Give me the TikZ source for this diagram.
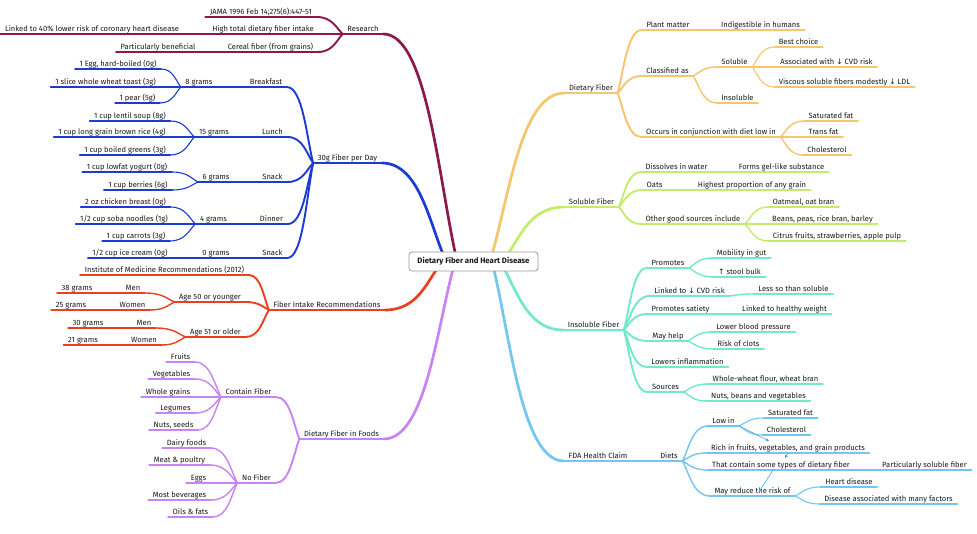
\documentclass[tikz,border=0pt]{standalone}
\usepackage{fontspec}
\setmainfont{Fira Sans}
\newfontfamily\symf{DejaVu Sans}
\usetikzlibrary{calc,arrows.meta}
\definecolor{cR}{HTML}{8B1A4B}
\definecolor{cB}{HTML}{1C3BD1}
\definecolor{cO}{HTML}{E8411E}
\definecolor{cP}{HTML}{C784F2}
\definecolor{cY}{HTML}{F6C66E}
\definecolor{cG}{HTML}{C4EC6C}
\definecolor{cC}{HTML}{72E8CC}
\definecolor{cL}{HTML}{72C6F0}
\definecolor{cLd}{HTML}{4AA6E6}
\definecolor{txt}{HTML}{1A1A1A}
\tikzset{
 mmtext/.style={inner xsep=4.5pt, inner ysep=0.5pt, text depth=1.7pt, text height=5.9pt,
   font=\fontsize{7.6}{8.5}\selectfont, text=txt},
 w1/.style={line width=2.7pt, line cap=round},
 w2/.style={line width=1.9pt, line cap=round},
 w3/.style={line width=1.4pt, line cap=round},
 w4/.style={line width=1.1pt, line cap=round},
 xlink/.style={cLd, line width=0.6pt, -{Triangle[length=3pt,width=3pt]}},
 rootbox/.style={draw=black!40, line width=0.8pt, rounded corners=3pt, fill=white,
   minimum width=129pt, minimum height=19pt, inner sep=2pt,
   font=\fontsize{7.8}{8.5}\selectfont\bfseries, text=txt}
}
\newcommand{\mmn}[5]{\node[mmtext,anchor=south] (#2) at (#3,#4) {#5};\draw[#1] (#2.south west) -- (#2.south east);}
\newcommand{\mmc}[3]{\draw[#1] let \p1=(#2), \p2=(#3) in (\p1) .. controls ({\x1+0.25*(\x2-\x1)},{\y1+0.35*(\y2-\y1)}) and ({\x2-0.6*(\x2-\x1)},\y2) .. (\p2);}
\begin{document}
\begin{tikzpicture}[x=1pt,y=-1pt]
\fill[white] (0,0) rectangle (977,534);
\useasboundingbox (0,0) rectangle (977,534);
% root anchor points
\coordinate (rR) at (457,261);
\coordinate (rB) at (446,261);
\coordinate (rO) at (442,262);
\coordinate (rP) at (455,262);
\coordinate (rY) at (490,261);
\coordinate (rG) at (503,261);
\coordinate (rC) at (500,262);
\coordinate (rL) at (492,262);
% ---------- Research
\mmn{cR,w1}{research}{363}{34}{Research}
\mmn{cR,w2}{jama}{261}{17}{JAMA 1996 Feb 14;275(6):447-51}
\mmn{cR,w2}{hightotal}{263}{34}{High total dietary fiber intake}
\mmn{cR,w3}{linked40}{92}{34}{Linked to 40\% lower risk of coronary heart disease}
\mmn{cR,w2}{cereal}{270.5}{52}{Cereal fiber (from grains)}
\mmn{cR,w3}{partic}{158}{52}{Particularly beneficial}
\mmc{cR,w1}{rR}{research.south east}
\mmc{cR,w2}{research.south west}{jama.south east}
\mmc{cR,w2}{research.south west}{hightotal.south east}
\mmc{cR,w2}{research.south west}{cereal.south east}
\mmc{cR,w3}{hightotal.south west}{linked40.south east}
\mmc{cR,w3}{cereal.south west}{partic.south east}
% ---------- 30g Fiber per Day
\mmn{cB,w1}{fiber30}{347.5}{163}{30g Fiber per Day}
\mmn{cB,w2}{breakfast}{266}{87}{Breakfast}
\mmn{cB,w3}{g8}{199}{87}{8 grams}
\mmn{cB,w4}{egg}{118}{69}{1 Egg, hard-boiled (0g)}
\mmn{cB,w4}{toast}{105.5}{87}{1 slice whole wheat toast (3g)}
\mmn{cB,w4}{pear}{137.5}{103}{1 pear (5g)}
\mmn{cB,w2}{lunch}{272.5}{137}{Lunch}
\mmn{cB,w3}{g15}{214}{137}{15 grams}
\mmn{cB,w4}{lentil}{130}{121}{1 cup lentil soup (8g)}
\mmn{cB,w4}{rice}{112}{137}{1 cup long grain brown rice (4g)}
\mmn{cB,w4}{greens}{125}{155}{1 cup boiled greens (3g)}
\mmn{cB,w2}{snack1}{272.5}{182}{Snack}
\mmn{cB,w3}{g6}{216}{182}{6 grams}
\mmn{cB,w4}{yogurt}{127}{172}{1 cup lowfat yogurt (0g)}
\mmn{cB,w4}{berries}{138}{190}{1 cup berries (6g)}
\mmn{cB,w2}{dinner}{271.5}{224}{Dinner}
\mmn{cB,w3}{g4}{213.5}{224}{4 grams}
\mmn{cB,w4}{chicken}{125.5}{207}{2 oz chicken breast (0g)}
\mmn{cB,w4}{soba}{124}{224}{1/2 cup soba noodles (1g)}
\mmn{cB,w4}{carrots}{136}{241}{1 cup carrots (3g)}
\mmn{cB,w2}{snack2}{272.5}{258}{Snack}
\mmn{cB,w3}{g0}{216}{258}{0 grams}
\mmn{cB,w4}{icecream}{130}{258}{1/2 cup ice cream (0g)}
\mmc{cB,w1}{rB}{fiber30.south east}
\mmc{cB,w2}{fiber30.south west}{breakfast.south east}
\mmc{cB,w2}{fiber30.south west}{lunch.south east}
\mmc{cB,w2}{fiber30.south west}{snack1.south east}
\mmc{cB,w2}{fiber30.south west}{dinner.south east}
\mmc{cB,w2}{fiber30.south west}{snack2.south east}
\mmc{cB,w3}{breakfast.south west}{g8.south east}
\mmc{cB,w4}{g8.south west}{egg.south east}
\mmc{cB,w4}{g8.south west}{toast.south east}
\mmc{cB,w4}{g8.south west}{pear.south east}
\mmc{cB,w3}{lunch.south west}{g15.south east}
\mmc{cB,w4}{g15.south west}{lentil.south east}
\mmc{cB,w4}{g15.south west}{rice.south east}
\mmc{cB,w4}{g15.south west}{greens.south east}
\mmc{cB,w3}{snack1.south west}{g6.south east}
\mmc{cB,w4}{g6.south west}{yogurt.south east}
\mmc{cB,w4}{g6.south west}{berries.south east}
\mmc{cB,w3}{dinner.south west}{g4.south east}
\mmc{cB,w4}{g4.south west}{chicken.south east}
\mmc{cB,w4}{g4.south west}{soba.south east}
\mmc{cB,w4}{g4.south west}{carrots.south east}
\mmc{cB,w3}{snack2.south west}{g0.south east}
\mmc{cB,w4}{g0.south west}{icecream.south east}
% ---------- Fiber Intake Recommendations
\mmn{cO,w1}{intake}{327}{310}{Fiber Intake Recommendations}
\mmn{cO,w2}{iom}{164.5}{275}{Institute of Medicine Recommendations (2012)}
\mmn{cO,w2}{age50}{210}{302}{Age 50 or younger}
\mmn{cO,w3}{men1}{133}{293}{Men}
\mmn{cO,w4}{g38}{77}{293}{38 grams}
\mmn{cO,w3}{women1}{132.5}{310}{Women}
\mmn{cO,w4}{g25}{71}{310}{25 grams}
\mmn{cO,w2}{age51}{215.5}{337}{Age 51 or older}
\mmn{cO,w3}{men2}{144}{328}{Men}
\mmn{cO,w4}{g30}{88}{328}{30 grams}
\mmn{cO,w3}{women2}{144}{345}{Women}
\mmn{cO,w4}{g21}{83}{345}{21 grams}
\mmc{cO,w1}{rO}{intake.south east}
\mmc{cO,w2}{intake.south west}{iom.south east}
\mmc{cO,w2}{intake.south west}{age50.south east}
\mmc{cO,w2}{intake.south west}{age51.south east}
\mmc{cO,w3}{age50.south west}{men1.south east}
\mmc{cO,w3}{age50.south west}{women1.south east}
\mmc{cO,w4}{men1.south west}{g38.south east}
\mmc{cO,w4}{women1.south west}{g25.south east}
\mmc{cO,w3}{age51.south west}{men2.south east}
\mmc{cO,w3}{age51.south west}{women2.south east}
\mmc{cO,w4}{men2.south west}{g30.south east}
\mmc{cO,w4}{women2.south west}{g21.south east}
% ---------- Dietary Fiber in Foods
\mmn{cP,w1}{foods}{341.5}{439}{Dietary Fiber in Foods}
\mmn{cP,w2}{contain}{248.5}{397}{Contain Fiber}
\mmn{cP,w3}{fruits}{180.5}{362}{Fruits}
\mmn{cP,w3}{veg}{171.5}{379}{Vegetables}
\mmn{cP,w3}{grains}{168}{397}{Whole grains}
\mmn{cP,w3}{legumes}{175.5}{413}{Legumes}
\mmn{cP,w3}{nuts}{173.5}{430}{Nuts, seeds}
\mmn{cP,w2}{nofiber}{256.5}{483}{No Fiber}
\mmn{cP,w3}{dairy}{186.5}{448}{Dairy foods}
\mmn{cP,w3}{meat}{179.5}{465}{Meat \& poultry}
\mmn{cP,w3}{eggs}{198.5}{483}{Eggs}
\mmn{cP,w3}{bev}{179.5}{500}{Most beverages}
\mmn{cP,w3}{oils}{190.5}{517}{Oils \& fats}
\mmc{cP,w1}{rP}{foods.south east}
\mmc{cP,w2}{foods.south west}{contain.south east}
\mmc{cP,w2}{foods.south west}{nofiber.south east}
\mmc{cP,w3}{contain.south west}{fruits.south east}
\mmc{cP,w3}{contain.south west}{veg.south east}
\mmc{cP,w3}{contain.south west}{grains.south east}
\mmc{cP,w3}{contain.south west}{legumes.south east}
\mmc{cP,w3}{contain.south west}{nuts.south east}
\mmc{cP,w3}{nofiber.south west}{dairy.south east}
\mmc{cP,w3}{nofiber.south west}{meat.south east}
\mmc{cP,w3}{nofiber.south west}{eggs.south east}
\mmc{cP,w3}{nofiber.south west}{bev.south east}
\mmc{cP,w3}{nofiber.south west}{oils.south east}
% ---------- Dietary Fiber
\mmn{cY,w1}{dfiber}{591}{93}{Dietary Fiber}
\mmn{cY,w2}{plant}{668}{30}{Plant matter}
\mmn{cY,w3}{indig}{760.5}{30}{Indigestible in humans}
\mmn{cY,w2}{classified}{667.5}{76}{Classified as}
\mmn{cY,w3}{soluble}{734.5}{67}{Soluble}
\mmn{cY,w4}{best}{798.5}{47}{Best choice}
\mmn{cY,w4}{assoc}{826.5}{67}{Associated with {\symf ↓} CVD risk}
\mmn{cY,w4}{viscous}{844.5}{87}{Viscous soluble fibers modestly {\symf ↓} LDL}
\mmn{cY,w3}{insol}{737.5}{103}{Insoluble}
\mmn{cY,w2}{occurs}{711}{137}{Occurs in conjunction with diet low in}
\mmn{cY,w3}{satfat}{831}{121}{Saturated fat}
\mmn{cY,w3}{trans}{823.5}{137}{Trans fat}
\mmn{cY,w3}{chol}{827}{155}{Cholesterol}
\mmc{cY,w1}{rY}{dfiber.south west}
\mmc{cY,w2}{dfiber.south east}{plant.south west}
\mmc{cY,w2}{dfiber.south east}{classified.south west}
\mmc{cY,w2}{dfiber.south east}{occurs.south west}
\mmc{cY,w3}{plant.south east}{indig.south west}
\mmc{cY,w3}{classified.south east}{soluble.south west}
\mmc{cY,w3}{classified.south east}{insol.south west}
\mmc{cY,w4}{soluble.south east}{best.south west}
\mmc{cY,w4}{soluble.south east}{assoc.south west}
\mmc{cY,w4}{soluble.south east}{viscous.south west}
\mmc{cY,w3}{occurs.south east}{satfat.south west}
\mmc{cY,w3}{occurs.south east}{trans.south west}
\mmc{cY,w3}{occurs.south east}{chol.south west}
% ---------- Soluble Fiber
\mmn{cG,w1}{sfiber}{591.5}{207}{Soluble Fiber}
\mmn{cG,w2}{dissolves}{676.5}{172}{Dissolves in water}
\mmn{cG,w3}{gel}{781.5}{172}{Forms gel-like substance}
\mmn{cG,w2}{oats}{654.5}{190}{Oats}
\mmn{cG,w3}{highest}{752}{190}{Highest proportion of any grain}
\mmn{cG,w2}{othergood}{693}{224}{Other good sources include}
\mmn{cG,w3}{oatmeal}{803.5}{207}{Oatmeal, oat bran}
\mmn{cG,w3}{beans}{822.5}{224}{Beans, peas, rice bran, barley}
\mmn{cG,w3}{citrus}{837}{241}{Citrus fruits, strawberries, apple pulp}
\mmc{cG,w1}{rG}{sfiber.south west}
\mmc{cG,w2}{sfiber.south east}{dissolves.south west}
\mmc{cG,w2}{sfiber.south east}{oats.south west}
\mmc{cG,w2}{sfiber.south east}{othergood.south west}
\mmc{cG,w3}{dissolves.south east}{gel.south west}
\mmc{cG,w3}{oats.south east}{highest.south west}
\mmc{cG,w3}{othergood.south east}{oatmeal.south west}
\mmc{cG,w3}{othergood.south east}{beans.south west}
\mmc{cG,w3}{othergood.south east}{citrus.south west}
% ---------- Insoluble Fiber
\mmn{cC,w1}{ifiber}{593.5}{330}{Insoluble Fiber}
\mmn{cC,w2}{promotes}{668}{268}{Promotes}
\mmn{cC,w3}{mobility}{741.5}{258}{Mobility in gut}
\mmn{cC,w3}{stool}{739.5}{277}{{\symf ↑} stool bulk}
\mmn{cC,w2}{linkedcvd}{689.5}{296}{Linked to {\symf ↓} CVD risk}
\mmn{cC,w3}{lessso}{793.5}{294}{Less so than soluble}
\mmn{cC,w2}{satiety}{680.5}{314}{Promotes satiety}
\mmn{cC,w3}{healthyw}{784.5}{314}{Linked to healthy weight}
\mmn{cC,w2}{mayhelp}{668}{341}{May help}
\mmn{cC,w3}{bp}{753.5}{332}{Lower blood pressure}
\mmn{cC,w3}{clots}{738.5}{349}{Risk of clots}
\mmn{cC,w2}{inflam}{687.5}{367}{Lowers inflammation}
\mmn{cC,w2}{sources}{665.5}{392}{Sources}
\mmn{cC,w3}{wheat}{765.5}{384}{Whole-wheat flour, wheat bran}
\mmn{cC,w3}{nutsbeans}{758.5}{401}{Nuts, beans and vegetables}
\mmc{cC,w1}{rC}{ifiber.south west}
\mmc{cC,w2}{ifiber.south east}{promotes.south west}
\mmc{cC,w2}{ifiber.south east}{linkedcvd.south west}
\mmc{cC,w2}{ifiber.south east}{satiety.south west}
\mmc{cC,w2}{ifiber.south east}{mayhelp.south west}
\mmc{cC,w2}{ifiber.south east}{inflam.south west}
\mmc{cC,w2}{ifiber.south east}{sources.south west}
\mmc{cC,w3}{promotes.south east}{mobility.south west}
\mmc{cC,w3}{promotes.south east}{stool.south west}
\mmc{cC,w3}{linkedcvd.south east}{lessso.south west}
\mmc{cC,w3}{satiety.south east}{healthyw.south west}
\mmc{cC,w3}{mayhelp.south east}{bp.south west}
\mmc{cC,w3}{mayhelp.south east}{clots.south west}
\mmc{cC,w3}{sources.south east}{wheat.south west}
\mmc{cC,w3}{sources.south east}{nutsbeans.south west}
% ---------- FDA Health Claim
\mmn{cL,w1}{fda}{598}{461}{FDA Health Claim}
\mmn{cL,w2}{diets}{669}{461}{Diets}
\mmn{cL,w3}{lowin}{723.5}{426}{Low in}
\mmn{cL,w4}{satfat2}{790.5}{418}{Saturated fat}
\mmn{cL,w4}{chol2}{786.5}{435}{Cholesterol}
\mmn{cL,w3}{rich}{788}{453}{Rich in fruits, vegetables, and grain products}
\mmn{cL,w3}{thatcontain}{781}{470}{That contain some types of dietary fiber}
\mmn{cL,w4}{partsol}{924.5}{470}{Particularly soluble fiber}
\mmn{cL,w3}{mayreduce}{752.5}{496}{May reduce the risk of}
\mmn{cL,w4}{heart}{849}{487}{Heart disease}
\mmn{cL,w4}{disease}{888.5}{504}{Disease associated with many factors}
\mmc{cL,w1}{rL}{fda.south west}
\mmc{cL,w2}{fda.south east}{diets.south west}
\mmc{cL,w3}{diets.south east}{lowin.south west}
\mmc{cL,w3}{diets.south east}{rich.south west}
\mmc{cL,w3}{diets.south east}{thatcontain.south west}
\mmc{cL,w3}{diets.south east}{mayreduce.south west}
\mmc{cL,w4}{lowin.south east}{satfat2.south west}
\mmc{cL,w4}{lowin.south east}{chol2.south west}
\mmc{cL,w4}{thatcontain.south east}{partsol.south west}
\mmc{cL,w4}{mayreduce.south east}{heart.south west}
\mmc{cL,w4}{mayreduce.south east}{disease.south west}
% cross links
\coordinate (a1e) at (769,441);
\coordinate (a2e) at (785,458);
\coordinate (a3e) at (759,492);
\draw[xlink] (lowin.south east) -- (a1e);
\draw[xlink] (rich.south) -- (a2e);
\draw[xlink] ([xshift=-8pt]thatcontain.south) -- (a3e);
% root
\node[rootbox] (root) at (473.5,261.5) {Dietary Fiber and Heart Disease};
\end{tikzpicture}
\end{document}
